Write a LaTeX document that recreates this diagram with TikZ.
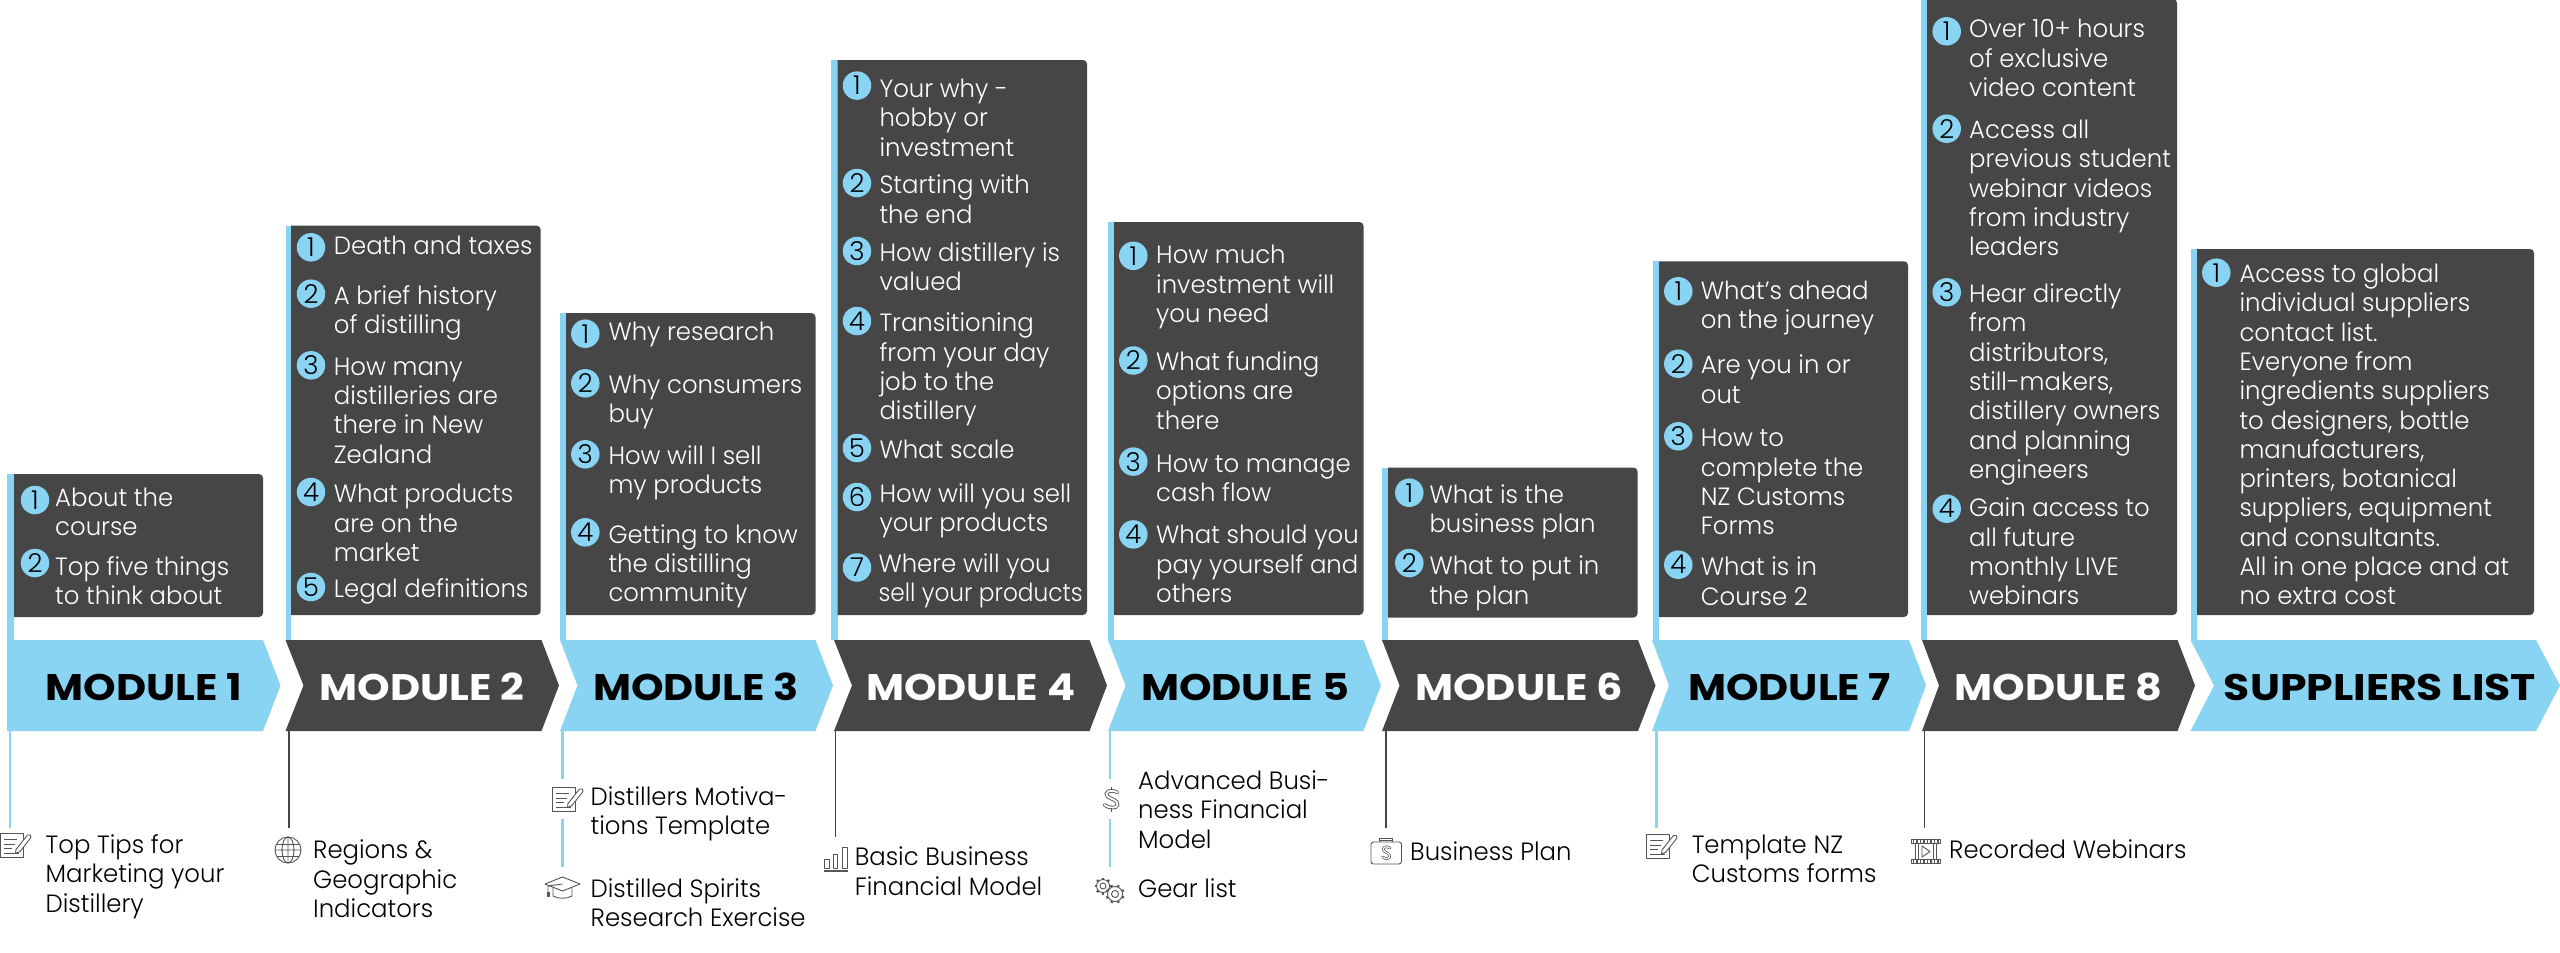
\documentclass[tikz,border=0pt]{standalone}
\usepackage{fontspec}
\setmainfont{Poppins Light}[BoldFont=Poppins Bold]
\usetikzlibrary{calc}
\definecolor{bluefill}{HTML}{89D4F3}
\definecolor{darkfill}{HTML}{464646}
\definecolor{iconline}{HTML}{555555}
\newcommand{\txtfont}{\fontsize{25}{29.3}\selectfont\addfontfeature{FakeStretch=0.975}}
\tikzset{
  itm/.style={anchor=north west,inner sep=0pt,yshift=20pt,align=left,font=\txtfont},
  itmw/.style={itm,text=white},
  itmk/.style={itm,text=black},
  num/.style={circle,fill=bluefill,draw=none,inner sep=0pt,minimum size=28.5pt,text=black,font=\fontsize{26}{26}\selectfont},
  ttl/.style={anchor=base,inner sep=0pt,font=\fontsize{37}{37}\selectfont\bfseries\addfontfeature{FakeStretch=1.12}},
  ttlw/.style={anchor=base,inner sep=0pt,font=\fontsize{37}{37}\selectfont\bfseries\addfontfeature{FakeStretch=1.15}},
  bluelink/.style={draw=bluefill,line width=2.6pt},
  darklink/.style={draw=darkfill,line width=2pt},
  ic/.style={draw=iconline,line width=0.9pt,line join=round},
  pics/docpen/.style={code={
    \draw[ic] (0.8,0) rectangle (23,24);
    \draw[ic] (4,6) -- (17,6) (4,11) -- (15,11) (4,15) -- (12,15) (4,20) -- (19,20);
    \draw[ic,fill=white] (16,16) -- (27.5,1.5) .. controls (29,0) and (32,2) .. (31,4) -- (20,18) -- (15.5,20) -- cycle;
  }},
  pics/globeicon/.style={code={
    \draw[ic] (13,13) circle (13);
    \draw[ic] (13,13) ellipse (6 and 13) (13,0) -- (13,26) (0,13) -- (26,13);
    \draw[ic] (2,7) -- (24,7) (2,19) -- (24,19);
  }},
  pics/capicon/.style={code={
    \draw[ic] (8,10) -- (8,19) .. controls (13,22) and (22,22) .. (27,19) -- (27,10);
    \draw[ic,fill=white] (0,7) -- (17.5,0) -- (35,7) -- (17.5,14) -- cycle;
    \draw[ic] (17.5,7) -- (3,9) -- (3,18);
    \draw[ic,fill=iconline] (2,15) rectangle (4,19);
  }},
  pics/barsicon/.style={code={
    \draw[ic] (0.5,13) rectangle (5,22.5) (9,8) rectangle (13.5,22.5) (18,1) rectangle (23,22.5);
    \draw[ic,line width=1.2pt] (0,25) -- (24,25);
  }},
  pics/dollaricon/.style={code={
    \draw[iconline,line width=3.6pt,line cap=round] (15,5.5) .. controls (8,1.5) and (1,5) .. (5,9.5) .. controls (8,12) and (16,13) .. (15,18) .. controls (14,22) and (6,21) .. (2,18);
    \draw[white,line width=1.8pt,line cap=round] (15,5.5) .. controls (8,1.5) and (1,5) .. (5,9.5) .. controls (8,12) and (16,13) .. (15,18) .. controls (14,22) and (6,21) .. (2,18);
    \draw[iconline,line width=0.9pt] (8.5,0) -- (8.5,3) (8.5,21) -- (8.5,25);
  }},
  pics/gearsicon/.style={code={
    \foreach \a in {0,45,...,315} {\draw[iconline,line width=2.4pt] (9,9) -- ++(\a:8.5);}
    \draw[ic,fill=white] (9,9) circle (6.5);
    \draw[ic] (9,9) circle (3);
    \foreach \a in {22,67,...,337} {\draw[iconline,line width=2.4pt] (21,17) -- ++(\a:9.5);}
    \draw[ic,fill=white] (21,17) circle (7.5);
    \draw[ic] (21,17) circle (3.5);
  }},
  pics/caseicon/.style={code={
    \draw[ic,rounded corners=2.5pt] (0.5,5) rectangle (31,27);
    \draw[ic] (9,5) -- (9,1) -- (22,1) -- (22,5) (9,3.5) -- (22,3.5);
    \draw[iconline,line width=2.6pt,line cap=round] (19.5,11) .. controls (15,8) and (11,11) .. (13.5,14) .. controls (16,16) and (20,17) .. (19,20) .. controls (18,22.5) and (14,22) .. (12,20);
    \draw[white,line width=1.2pt,line cap=round] (19.5,11) .. controls (15,8) and (11,11) .. (13.5,14) .. controls (16,16) and (20,17) .. (19,20) .. controls (18,22.5) and (14,22) .. (12,20);
  }},
  pics/filmicon/.style={code={
    \draw[ic] (0.5,0.5) rectangle (29,4.5) (0.5,20.5) rectangle (29,24.5);
    \foreach \x in {2.5,6,...,27} {\draw[iconline,line width=1.2pt] (\x,1) -- (\x,4) (\x,21) -- (\x,24);}
    \draw[ic] (4,4.5) -- (4,20.5) (7,4.5) -- (7,20.5) (22.5,4.5) -- (22.5,20.5) (25.5,4.5) -- (25.5,20.5);
    \draw[ic] (11,7) -- (19,12.5) -- (11,18) -- cycle;
  }},
}
\newcommand{\chev}[6]{% name L notch shoulder tip fill
  \fill[#6] (#2,640) -- (#4,640) -- (#5,685.5) -- (#4,731) -- (#2,731) -- (#3,685.5) -- cycle;}
\newcommand{\panel}[5]{% barL barR right top bottom
  \fill[bluefill] (#1,#4) rectangle (#2,640);
  \fill[darkfill] (#2,#5) -- (#2,#4) [rounded corners=4pt] -- (#3,#4) -- (#3,#5) [sharp corners] -- cycle;}
\newcommand{\itemtxt}[5]{\node[#1] (#2) at (#3,#4) {\rule{0pt}{20pt}#5};}
\begin{document}
\begin{tikzpicture}[x=1pt,y=-1pt]
\useasboundingbox (0,0) rectangle (2560,953);
\fill[white] (0,0) rectangle (2560,953);

% panels
\panel{7}{14}{263}{474}{617}
\panel{285.5}{291}{540.7}{225.7}{615}
\panel{559.5}{566}{815.5}{313}{615}
\panel{831}{837.5}{1087}{60}{615}
\panel{1107.5}{1114}{1363.5}{222}{615}
\panel{1381.5}{1388}{1637.5}{467.5}{617.5}
\panel{1652.5}{1659}{1908}{261.3}{617}
\panel{1921}{1927}{2177}{-1}{615}
\panel{2190.5}{2197}{2534}{249}{615}

% chevrons
\chev{c1}{7}{7}{263}{280.5}{bluefill}
\chev{c2}{285.5}{303.5}{541.5}{559}{darkfill}
\chev{c3}{560}{577.5}{815.5}{833}{bluefill}
\chev{c4}{834}{852}{1089.5}{1107}{darkfill}
\chev{c5}{1108}{1125.5}{1363.5}{1381}{bluefill}
\chev{c6}{1382}{1399.6}{1638}{1655.5}{darkfill}
\chev{c7}{1652}{1669}{1909}{1926}{bluefill}
\chev{c8}{1922}{1939}{2177.5}{2195}{darkfill}
\chev{c9}{2190.5}{2214}{2536}{2560}{bluefill}

% titles
\node[ttl,text=black] (t1) at (144,700) {MODULE 1};
\node[ttl,text=white] (t2) at (422,700) {MODULE 2};
\node[ttl,text=black] (t3) at (696,700) {MODULE 3};
\node[ttl,text=white] (t4) at (970.6,700) {MODULE 4};
\node[ttl,text=black] (t5) at (1245,700) {MODULE 5};
\node[ttl,text=white] (t6) at (1519,700) {MODULE 6};
\node[ttl,text=black] (t7) at (1789.6,700) {MODULE 7};
\node[ttl,text=white] (t8) at (2058.7,700) {MODULE 8};
\node[ttlw,text=black] (t9) at (2380,700) {SUPPLIERS LIST};

% module 1
\node[num] (a1) at (35,500) {1};
\node[num] (a2) at (35,563) {2};
\itemtxt{itmw}{a1t}{55}{506}{About the\\course}
\itemtxt{itmw}{a2t}{55}{575}{Top five things\\to think about}

% module 2
\node[num] (b1) at (311,247.3) {1};
\node[num] (b2) at (311,293.7) {2};
\node[num] (b3) at (311,365.3) {3};
\node[num] (b4) at (311,492) {4};
\node[num] (b5) at (311,587) {5};
\itemtxt{itmw}{b1t}{333.7}{254.3}{Death and taxes}
\itemtxt{itmw}{b2t}{333.7}{304.3}{A brief history\\of distilling}
\itemtxt{itmw}{b3t}{333.7}{375}{How many\\distilleries are\\there in New\\Zealand}
\itemtxt{itmw}{b4t}{333.7}{502.7}{What products\\are on the\\market}
\itemtxt{itmw}{b5t}{333.7}{597.7}{Legal definitions}

% module 3
\node[num] (c1n) at (585.3,333.7) {1};
\node[num] (c2n) at (585.3,383.3) {2};
\node[num] (c3n) at (585.3,454.3) {3};
\node[num] (c4n) at (585.3,532.3) {4};
\itemtxt{itmw}{c1t}{608.3}{340}{Why research}
\itemtxt{itmw}{c2t}{608.3}{393.3}{Why consumers\\buy}
\itemtxt{itmw}{c3t}{608.3}{464.3}{How will I sell\\my products}
\itemtxt{itmw}{c4t}{608.3}{543}{Getting to know\\the distilling\\community}

% module 4
\node[num] (d1) at (857,85.6) {1};
\node[num] (d2) at (857,183) {2};
\node[num] (d3) at (857,251) {3};
\node[num] (d4) at (857,321) {4};
\node[num] (d5) at (857,448) {5};
\node[num] (d6) at (857,497) {6};
\node[num] (d7) at (857,567.5) {7};
\itemtxt{itmw}{d1t}{879.3}{97.3}{Your why -\\hobby or\\investment}
\itemtxt{itmw}{d2t}{879.3}{193.6}{Starting with\\the end}
\itemtxt{itmw}{d3t}{879.3}{261.3}{How distillery is\\valued}
\itemtxt{itmw}{d4t}{879.3}{331.5}{Transitioning\\from your day\\job to the\\distillery}
\itemtxt{itmw}{d5t}{879.3}{458.7}{What scale}
\itemtxt{itmw}{d6t}{879.3}{502}{How will you sell\\your products}
\itemtxt{itmw}{d7t}{878.3}{571.8}{Where will you\\{\addfontfeature{FakeStretch=0.93}sell your products}}

% module 5
\node[num] (e1) at (1133.3,255.8) {1};
\node[num] (e2) at (1133.3,360.5) {2};
\node[num] (e3) at (1133.3,461.6) {3};
\node[num] (e4) at (1133.3,534.4) {4};
\itemtxt{itmw}{e1t}{1156}{263.5}{How much\\investment will\\you need}
\itemtxt{itmw}{e2t}{1156}{370.4}{What funding\\options are\\there}
\itemtxt{itmw}{e3t}{1156}{471.8}{How to manage\\cash flow}
\itemtxt{itmw}{e4t}{1156}{543.5}{What should you\\pay yourself and\\others}

% module 6
\node[num] (f1) at (1409.3,492.7) {1};
\node[num] (f2) at (1409.3,563) {2};
\itemtxt{itmw}{f1t}{1429.3}{503.3}{What is the\\business plan}
\itemtxt{itmw}{f2t}{1429.3}{574.7}{What to put in\\the plan}

% module 7
\node[num] (g1) at (1678.3,291.3) {1};
\node[num] (g2) at (1678.3,363.7) {2};
\node[num] (g3) at (1678.3,436.3) {3};
\node[num] (g4) at (1678.3,564.7) {4};
\itemtxt{itmw}{g1t}{1700.7}{299}{What’s ahead\\on the journey}
\itemtxt{itmw}{g2t}{1700.7}{373.7}{Are you in or\\out}
\itemtxt{itmw}{g3t}{1700.7}{446.7}{How to\\complete the\\NZ Customs\\Forms}
\itemtxt{itmw}{g4t}{1700.7}{575.7}{What is in\\Course 2}

% module 8
\node[num] (h1) at (1946.7,31.3) {1};
\node[num] (h2) at (1946.7,128.7) {2};
\node[num] (h3) at (1946.7,292.3) {3};
\node[num] (h4) at (1946.7,508.7) {4};
\itemtxt{itmw}{h1t}{1969}{37.7}{Over 10+ hours\\of exclusive\\video content}
\itemtxt{itmw}{h2t}{1969}{138.3}{Access all\\previous student\\webinar videos\\from industry\\leaders}
\itemtxt{itmw}{h3t}{1969}{302.3}{Hear directly\\from\\distributors,\\still-makers,\\distillery owners\\and planning\\engineers}
\itemtxt{itmw}{h4t}{1969}{516.7}{Gain access to\\all future\\monthly LIVE\\webinars}

% suppliers
\node[num] (s1) at (2216.3,272.7) {1};
\itemtxt{itmw}{s1t}{2239.3}{282.3}{Access to global\\individual suppliers\\contact list.\\Everyone from\\ingredients suppliers\\to designers, bottle\\manufacturers,\\printers, botanical\\suppliers, equipment\\and consultants.\\All in one place and at\\no extra cost}

% connector end points
\coordinate (l1a) at (10,731);      \coordinate (l1b) at (10,828);
\coordinate (l2a) at (289,731);     \coordinate (l2b) at (289,828);
\coordinate (l3a) at (562.5,731);   \coordinate (l3b) at (562.5,779);
\coordinate (l3c) at (562.5,819);   \coordinate (l3d) at (562.5,867);
\coordinate (l4a) at (835.5,731);   \coordinate (l4b) at (835.5,837);
\coordinate (l5a) at (1110,731);    \coordinate (l5b) at (1110,779);
\coordinate (l5c) at (1110,819);    \coordinate (l5d) at (1110,867);
\coordinate (l6a) at (1386,731);    \coordinate (l6b) at (1386,828);
\coordinate (l7a) at (1656.5,731);  \coordinate (l7b) at (1656.5,828);
\coordinate (l8a) at (1924.6,731);  \coordinate (l8b) at (1924.6,828);
\draw[bluelink] (l1a) -- (l1b);
\draw[darklink] (l2a) -- (l2b);
\draw[bluelink] (l3a) -- (l3b);
\draw[bluelink] (l3c) -- (l3d);
\draw[darklink,line width=1.5pt] (l4a) -- (l4b);
\draw[bluelink] (l5a) -- (l5b);
\draw[bluelink] (l5c) -- (l5d);
\draw[darklink] (l6a) -- (l6b);
\draw[bluelink] (l7a) -- (l7b);
\draw[darklink,line width=1.5pt] (l8a) -- (l8b);

% icons
\pic at (0,833.5) {docpen};
\pic at (275,837) {globeicon};
\pic at (552,787.5) {docpen};
\pic at (545,877) {capicon};
\pic at (824,846) {barsicon};
\pic at (1102.5,787) {dollaricon};
\pic at (1094,877) {gearsicon};
\pic at (1370.5,837) {caseicon};
\pic at (1646,834) {docpen};
\pic at (1911,839) {filmicon};

% lower labels
\itemtxt{itmk}{p1}{45.5}{853.3}{Top Tips for\\Marketing your\\Distillery}
\itemtxt{itmk}{p2}{313}{858.7}{Regions \&\\Geographic\\Indicators}
\itemtxt{itmk}{p3}{590.5}{805}{Distillers Motiva-\\tions Template}
\itemtxt{itmk}{p3b}{590.5}{897.3}{Distilled Spirits\\Research Exercise}
\itemtxt{itmk}{p4}{854.6}{865.7}{Basic Business\\Financial Model}
\itemtxt{itmk}{p5}{1138}{789.3}{Advanced Busi-\\ness Financial\\Model}
\itemtxt{itmk}{p5b}{1138}{897.3}{Gear list}
\itemtxt{itmk}{p6}{1410}{860.7}{Business Plan}
\itemtxt{itmk}{p7}{1691.6}{853.3}{Template NZ\\Customs forms}
\itemtxt{itmk}{p8}{1949}{858.7}{Recorded Webinars}
\end{tikzpicture}
\end{document}
